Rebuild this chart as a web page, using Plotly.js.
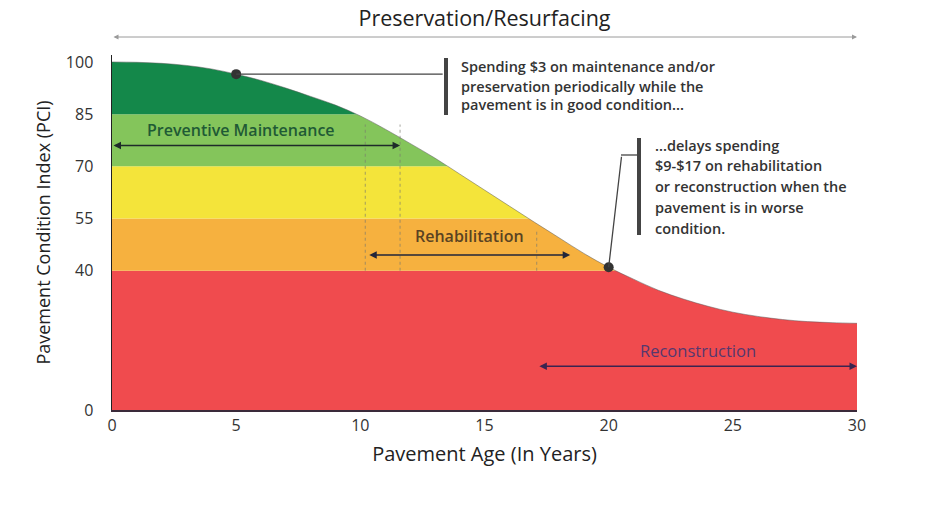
<!DOCTYPE html>
<html>
<head>
<meta charset="utf-8">
<script src="https://cdn.plot.ly/plotly-3.0.1.min.js"></script>
<style>html,body{margin:0;padding:0;background:#fff}#chart{width:940px;height:508px}</style>
</head>
<body>
<div id="chart"></div>
<script>
// ---- data ----
const years = [0,1,2,3,4,5,6,7,8,9,10,11,12,13,14,15,16,17,18,19,20,21,22,23,24,25,26,27,28,29,30];
const pci   = [100,99.9,99.6,99,98,96.5,94.7,92.5,90.1,87.6,84.5,80.7,76.6,72.4,67.8,63.2,58.6,54.0,49.5,45.0,41.0,37.6,34.4,31.9,29.8,28.1,26.9,26,25.4,25.1,24.9];
const bandLo = [0, 40, 55, 70, 85];
const bandHi = [40, 55, 70, 85, 100];
const bandColors = ['#f04b4e', '#f6b13f', '#f4e43a', '#84c55b', '#14884a'];
const yTicks = [0, 40, 55, 70, 85, 100];
const xTicks = [0, 5, 10, 15, 20, 25, 30];
const markYears = [5, 20];
const note1 = ['Spending $3 on maintenance and/or', 'preservation periodically while the', 'pavement is in good condition...'];
const note2 = ['...delays spending', '$9-$17 on rehabilitation', 'or reconstruction when the', 'pavement is in worse', 'condition.'];
const yMax = 102;

const FONT = 'Open Sans, Lato, sans-serif';
const xMin = years[0], xMax = years[years.length - 1];

const traces = [];
bandLo.forEach((lo, i) => {
  traces.push({
    x: [xMin, xMax, xMax, xMin], y: [lo, lo, bandHi[i], bandHi[i]],
    type: 'scatter', mode: 'lines', fill: 'toself', fillcolor: bandColors[i],
    line: {width: 0}, hoverinfo: 'skip', showlegend: false
  });
});
traces.push({x: years, y: pci, type: 'scatter', mode: 'lines',
  line: {width: 0, shape: 'spline', smoothing: 1}, hoverinfo: 'skip', showlegend: false});
traces.push({x: years, y: years.map(() => yMax), type: 'scatter', mode: 'lines',
  fill: 'tonexty', fillcolor: '#ffffff', line: {width: 0}, hoverinfo: 'skip', showlegend: false});
traces.push({x: years, y: pci, type: 'scatter', mode: 'lines',
  line: {width: 1, color: 'rgba(90,90,90,0.5)', shape: 'spline', smoothing: 1}, hoverinfo: 'skip', showlegend: false});
const markVals = markYears.map(yr => pci[years.indexOf(yr)]);
traces.push({x: markYears, y: markVals, type: 'scatter', mode: 'markers',
  marker: {size: 10, color: '#333'}, hoverinfo: 'skip', showlegend: false});

const L = 112, R = 857, T = 55, B = 410;
const px = v => (v - L) / (R - L);
const py = v => (B - v) / (B - T);

const noteFont = {family: FONT, size: 14.5, color: '#333', weight: 600};
const annotations = [
  {xref: 'paper', yref: 'paper', x: 1, y: py(37), axref: 'paper', ayref: 'paper', ax: 0, ay: py(37),
   text: '', showarrow: true, arrowside: 'end+start', arrowhead: 2, arrowsize: 1, arrowwidth: 1, arrowcolor: '#9a9a9a'},
  {xref: 'x', yref: 'y', x: markYears[0], y: markVals[0], ax: 208, ay: 0, text: '',
   showarrow: true, arrowhead: 0, arrowwidth: 1.3, arrowcolor: '#444'},
  {xref: 'x', yref: 'y', x: markYears[1], y: markVals[1], ax: 13, ay: -112, text: '',
   showarrow: true, arrowhead: 0, arrowwidth: 1.3, arrowcolor: '#444'},
  {xref: 'x', yref: 'y', x: 5.2, y: 80.5, showarrow: false, text: 'Preventive Maintenance',
   font: {family: FONT, size: 16, color: '#1f5a35', weight: 600}},
  {xref: 'x', yref: 'y', x: 11.6, y: 76, axref: 'x', ayref: 'y', ax: 0, ay: 76, text: '',
   showarrow: true, arrowside: 'end+start', arrowhead: 2, arrowsize: 1, arrowwidth: 1.5, arrowcolor: '#1e2b2a'},
  {xref: 'x', yref: 'y', x: 14.4, y: 50, showarrow: false, text: 'Rehabilitation',
   font: {family: FONT, size: 16, color: '#5a4322', weight: 600}},
  {xref: 'x', yref: 'y', x: 18.45, y: 44.5, axref: 'x', ayref: 'y', ax: 10.3, ay: 44.5, text: '',
   showarrow: true, arrowside: 'end+start', arrowhead: 2, arrowsize: 1, arrowwidth: 1.5, arrowcolor: '#22263a'},
  {xref: 'x', yref: 'y', x: 23.6, y: 17.2, showarrow: false, text: 'Reconstruction',
   font: {family: FONT, size: 16.5, color: '#56386e'}},
  {xref: 'x', yref: 'y', x: 30, y: 12.6, axref: 'x', ayref: 'y', ax: 17.15, ay: 12.6, text: '',
   showarrow: true, arrowside: 'end+start', arrowhead: 2, arrowsize: 1, arrowwidth: 1.5, arrowcolor: '#3a2450'}
];
const note1Y = [67, 86, 104];
note1.forEach((t, i) => annotations.push({xref: 'paper', yref: 'paper', x: px(459), y: py(note1Y[i]),
  xanchor: 'left', yanchor: 'middle', showarrow: false, text: t, font: noteFont}));
const note2Y = [145, 165.5, 186.5, 207, 228];
note2.forEach((t, i) => annotations.push({xref: 'paper', yref: 'paper', x: px(653), y: py(note2Y[i]),
  xanchor: 'left', yanchor: 'middle', showarrow: false, text: t, font: noteFont}));

const dotted = {color: 'rgba(120,120,110,0.55)', width: 1.2, dash: 'dot'};
const shapes = [
  {type: 'line', xref: 'x', yref: 'y', x0: 10.2, x1: 10.2, y0: 40, y1: 82, line: dotted, layer: 'above'},
  {type: 'line', xref: 'x', yref: 'y', x0: 11.6, x1: 11.6, y0: 40, y1: 82, line: dotted, layer: 'above'},
  {type: 'line', xref: 'x', yref: 'y', x0: 17.1, x1: 17.1, y0: 40, y1: 52, line: dotted, layer: 'above'},
  {type: 'rect', xref: 'paper', yref: 'paper', x0: px(444), x1: px(448), y0: py(115), y1: py(58),
   fillcolor: '#444', line: {width: 0}},
  {type: 'rect', xref: 'paper', yref: 'paper', x0: px(637), x1: px(641), y0: py(235), y1: py(138),
   fillcolor: '#444', line: {width: 0}},
  {type: 'line', xref: 'paper', yref: 'paper', x0: px(621), x1: px(638), y0: py(155), y1: py(155),
   line: {color: '#444', width: 1.3}}
];

const layout = {
  width: 940, height: 508,
  margin: {l: L, r: 940 - R, t: T, b: 508 - B},
  paper_bgcolor: '#fff', plot_bgcolor: '#fff',
  showlegend: false, hovermode: false,
  font: {family: FONT, color: '#333'},
  title: {text: 'Preservation/Resurfacing', xref: 'paper', x: 0.5, yref: 'container', y: 1 - 18 / 508,
          yanchor: 'middle', font: {family: FONT, size: 21.5, color: '#222'}},
  xaxis: {range: [xMin, xMax], tickvals: xTicks, ticktext: xTicks.map(String), ticks: '',
          showgrid: false, zeroline: false, showline: true, linecolor: '#3a2a3a', linewidth: 1.5,
          tickfont: {family: FONT, size: 16, color: '#333'}, ticklabelstandoff: 0,
          title: {text: 'Pavement Age (In Years)', font: {family: FONT, size: 20, color: '#222'}, standoff: 12}},
  yaxis: {range: [0, yMax], tickvals: yTicks, ticktext: yTicks.map(String), ticks: '',
          showgrid: false, zeroline: false, showline: true, linecolor: '#222', linewidth: 1.5,
          tickfont: {family: FONT, size: 16, color: '#333'}, ticklabelstandoff: 14,
          title: {text: 'Pavement Condition Index (PCI)', font: {family: FONT, size: 18, color: '#222'}, standoff: 10}},
  annotations: annotations,
  shapes: shapes
};

Plotly.newPlot('chart', traces, layout, {displayModeBar: false, staticPlot: true});
</script>
</body>
</html>
